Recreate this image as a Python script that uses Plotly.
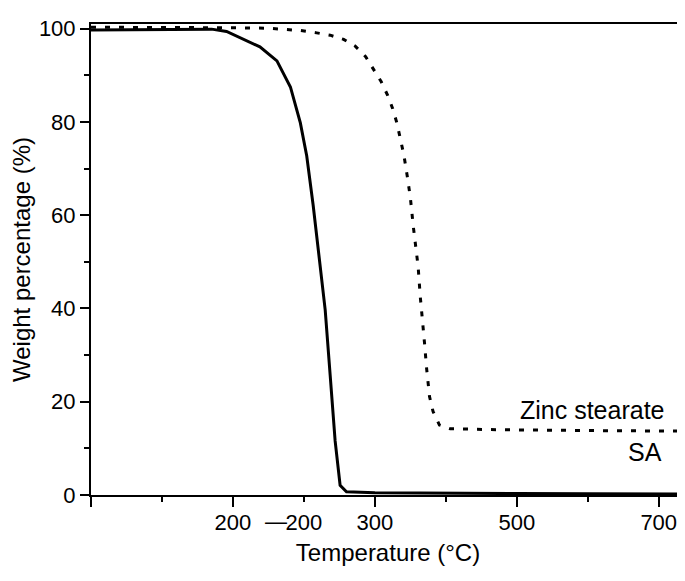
import plotly.graph_objects as go

# Temperature axis values (°C) and weight percentages
sa_temp = [-100, 0, 50, 70, 91, 115, 138, 162, 181, 195, 204, 213, 220, 230, 237, 244, 251, 260, 300, 400, 500, 600, 730]
sa_weight = [99.7, 99.8, 99.9, 99.9, 99.4, 97.7, 96.1, 93.1, 87.5, 79.8, 72.7, 62.2, 52.5, 39.7, 25.7, 11.6, 2.1, 0.7, 0.5, 0.35, 0.3, 0.25, 0.2]

zn_temp = [-100, 0, 100, 148, 195, 218, 237, 256, 272, 287, 298, 309, 318, 325, 331, 336, 341, 346, 350, 354, 358, 361, 364, 367, 370, 373, 377, 382, 391, 406, 476, 617, 726]
zn_weight = [100.3, 100.3, 100.2, 100.1, 99.6, 99.1, 98.6, 97.7, 96.3, 94.0, 91.4, 88.6, 85.7, 82.9, 79.8, 76.6, 72.8, 68.0, 63.8, 57.8, 52.4, 48.9, 42.5, 36.5, 32.5, 27.0, 21.1, 17.9, 15.0, 14.2, 14.0, 13.8, 13.7]

# x tick positions: labelled (short marks) and long marks
x_tickvals = [-100, 0, 100, 200, 300, 400, 500, 600, 700]
x_ticktext = ["", "", "200", "200", "300", "", "500", "", "700"]
x_long_ticks = [-100, 100, 300, 500, 700]
y_tickvals = [0, 20, 40, 60, 80, 100]
y_minor_ticks = [10, 30, 50, 70, 90]

FONT = "Liberation Sans, Arial, sans-serif"
TICK_SIZE = 22

fig = go.Figure()
fig.add_trace(go.Scatter(x=zn_temp, y=zn_weight, mode="lines",
                         line=dict(color="black", width=3, dash="5px,9px"),
                         showlegend=False))
fig.add_trace(go.Scatter(x=sa_temp, y=sa_weight, mode="lines",
                         line=dict(color="black", width=3),
                         showlegend=False))

fig.update_xaxes(range=[-100, 737], tickmode="array", tickvals=x_tickvals, ticktext=x_ticktext,
                 ticks="outside", ticklen=5, tickwidth=1.5, tickcolor="black",
                 ticklabelstandoff=2,
                 showline=True, linecolor="black", linewidth=2, mirror=True,
                 showgrid=False, zeroline=False,
                 tickfont=dict(family=FONT, size=TICK_SIZE, color="black"),
                 title=dict(text="Temperature (°C)", font=dict(family=FONT, size=24, color="black"), standoff=10),
                 minor=dict(tickmode="array", tickvals=x_long_ticks, ticks="outside", ticklen=10, tickwidth=1.5, tickcolor="black"))
fig.update_yaxes(range=[0, 101], tickmode="array", tickvals=y_tickvals,
                 ticks="outside", ticklen=9, tickwidth=1.5, tickcolor="black",
                 showline=True, linecolor="black", linewidth=2,
                 showgrid=False, zeroline=False,
                 tickfont=dict(family=FONT, size=TICK_SIZE, color="black"),
                 title=dict(text="Weight percentage (%)", font=dict(family=FONT, size=24, color="black"), standoff=3),
                 minor=dict(tickmode="array", tickvals=y_minor_ticks, ticks="outside", ticklen=5, tickwidth=1.5, tickcolor="black"))

# dash between the two "200" labels
fig.add_annotation(x=160, y=0, xref="x", yref="paper", text="—", showarrow=False,
                   yanchor="middle", yshift=-26, font=dict(family=FONT, size=TICK_SIZE, color="black"))

fig.add_annotation(x=606, y=18.3, xref="x", yref="y", text="Zinc stearate", showarrow=False,
                   yanchor="middle", font=dict(family=FONT, size=25, color="black"))
fig.add_annotation(x=681, y=9.2, xref="x", yref="y", text="SA", showarrow=False,
                   yanchor="middle", font=dict(family=FONT, size=25, color="black"))

# the page adds an 8px body margin, so margins are offset by 8px
fig.update_layout(width=685, height=581, margin=dict(l=83, r=8, t=8, b=94),
                  paper_bgcolor="white", plot_bgcolor="white",
                  font=dict(family=FONT, color="black"))

fig.write_html("out.html")
